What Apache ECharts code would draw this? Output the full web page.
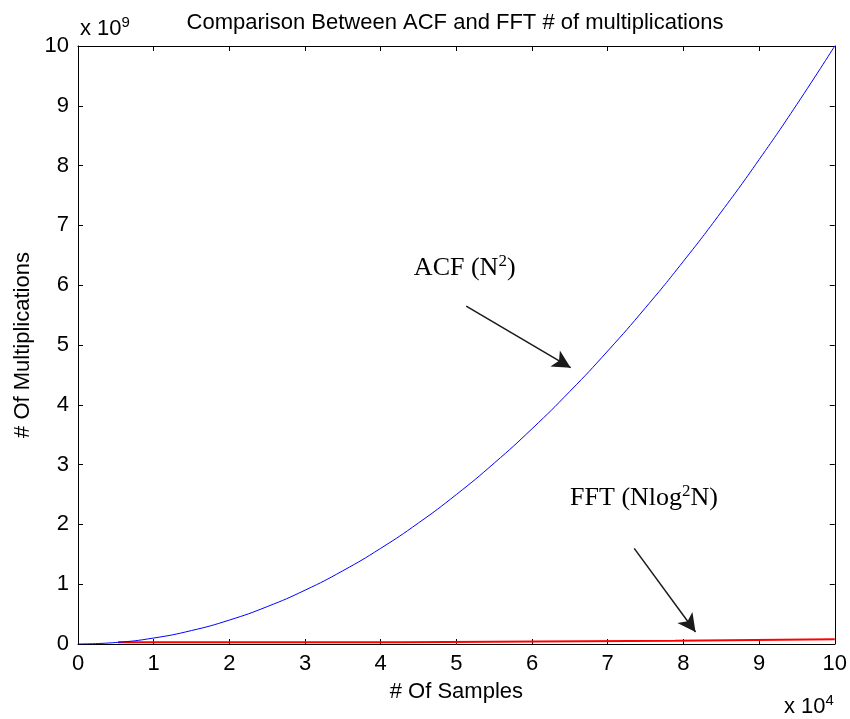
<!DOCTYPE html>
<html>
<head>
<meta charset="utf-8">
<script src="https://cdn.jsdelivr.net/npm/echarts@6/dist/echarts.min.js"></script>
<style>
  html, body { margin: 0; padding: 0; background: #fff; }
  #chart { width: 850px; height: 719px; }
</style>
</head>
<body>
<div id="chart"></div>
<script>
// samples in units of 1e4, multiplications in units of 1e9
const samples = [0, 0.5, 1, 1.5, 2, 2.5, 3, 3.5, 4, 4.5, 5, 5.5, 6, 6.5, 7, 7.5, 8, 8.5, 9, 9.5, 10];
const acfValues = [0, 0.025, 0.1, 0.225, 0.4, 0.625, 0.9, 1.225, 1.6, 2.025, 2.5, 3.025, 3.6, 4.225, 4.9, 5.625, 6.4, 7.225, 8.1, 9.025, 10];

// FFT curve is a staircase, corners listed explicitly
const fftSamples = [0.53, 4.26, 4.26, 7.89, 7.89, 10];
const fftValues = [0.03, 0.03, 0.055, 0.055, 0.08, 0.08];

// annotation anchors in data units [x, y]
const acfArrow = [[5.13, 5.65], [6.51, 4.62]];
const fftArrow = [[7.35, 1.6], [8.16, 0.2]];
const acfLabelPos = [5.11, 6.29];
const fftLabelPos = [7.48, 2.44];

const font = "'Liberation Sans', Arial, sans-serif";
const serif = "'Liberation Serif', 'Times New Roman', serif";

const chart = echarts.init(document.getElementById("chart"));

const tickStyle = { inside: true, length: 5, lineStyle: { color: "#000", width: 1 } };
const boxLine = { show: true, onZero: false, lineStyle: { color: "#000", width: 1 } };

const supRich = {
  a: { fontFamily: serif, fontSize: 26, color: "#000", lineHeight: 30 },
  s: { fontFamily: serif, fontSize: 17, color: "#000", verticalAlign: "top", lineHeight: 17 },
};
const expRich = {
  a: { fontFamily: font, fontSize: 22, color: "#000", lineHeight: 28 },
  s: { fontFamily: font, fontSize: 15, color: "#000", verticalAlign: "top", lineHeight: 15 },
};

const option = {
  animation: false,
  title: {
    text: "Comparison Between ACF and FFT # of multiplications",
    left: 450,
    textAlign: "center",
    top: 7,
    textStyle: { fontFamily: font, fontSize: 22, fontWeight: "normal", color: "#000" },
  },
  grid: { left: 78, right: 13, top: 46, bottom: 75 },
  xAxis: [
    {
      type: "value",
      min: 0,
      max: 10,
      interval: 1,
      name: "# Of Samples",
      nameLocation: "middle",
      nameGap: 37,
      nameTextStyle: { fontFamily: font, fontSize: 22, color: "#000" },
      axisLine: boxLine,
      axisTick: tickStyle,
      axisLabel: { fontFamily: font, fontSize: 22, color: "#000", margin: 9 },
      splitLine: { show: false },
    },
    {
      type: "value",
      position: "top",
      min: 0,
      max: 10,
      interval: 1,
      axisLine: boxLine,
      axisTick: tickStyle,
      axisLabel: { show: false },
      splitLine: { show: false },
    },
  ],
  yAxis: [
    {
      type: "value",
      min: 0,
      max: 10,
      interval: 1,
      name: "# Of Multiplications",
      nameLocation: "middle",
      nameGap: 33,
      nameTextStyle: { fontFamily: font, fontSize: 22, color: "#000" },
      axisLine: boxLine,
      axisTick: tickStyle,
      axisLabel: { fontFamily: font, fontSize: 22, color: "#000", margin: 9 },
      splitLine: { show: false },
    },
    {
      type: "value",
      position: "right",
      min: 0,
      max: 10,
      interval: 1,
      axisLine: boxLine,
      axisTick: tickStyle,
      axisLabel: { show: false },
      splitLine: { show: false },
    },
  ],
  graphic: [
    {
      type: "text",
      left: 80,
      top: 15,
      style: { text: "{a|x 10}{s|9}", rich: expRich },
    },
    {
      type: "text",
      left: 784,
      top: 693,
      style: { text: "{a|x 10}{s|4}", rich: expRich },
    },
  ],
  series: [
    {
      name: "FFT",
      type: "line",
      data: fftSamples.map((x, i) => [x, fftValues[i]]),
      symbol: "none",
      lineStyle: { color: "#ff0000", width: 2 },
      z: 2,
      markLine: {
        silent: true,
        symbol: ["none", "arrow"],
        symbolSize: [14, 18],
        label: { show: false },
        lineStyle: { color: "#1a1a1a", width: 1.5, type: "solid" },
        data: [
          [{ coord: acfArrow[0] }, { coord: acfArrow[1] }],
          [{ coord: fftArrow[0] }, { coord: fftArrow[1] }],
        ],
      },
      markPoint: {
        silent: true,
        symbol: "circle",
        symbolSize: 0,
        data: [
          {
            coord: acfLabelPos,
            label: { show: true, position: "inside", formatter: "{a|ACF (N}{s|2}{a|)}", rich: supRich },
          },
          {
            coord: fftLabelPos,
            label: { show: true, position: "inside", formatter: "{a|FFT (Nlog}{s|2}{a|N)}", rich: supRich },
          },
        ],
      },
    },
    {
      name: "ACF",
      type: "line",
      smooth: true,
      data: samples.map((x, i) => [x, acfValues[i]]),
      symbol: "none",
      lineStyle: { color: "#0000ff", width: 1 },
      z: 3,
    },
  ],
};

chart.setOption(option);
</script>
</body>
</html>
